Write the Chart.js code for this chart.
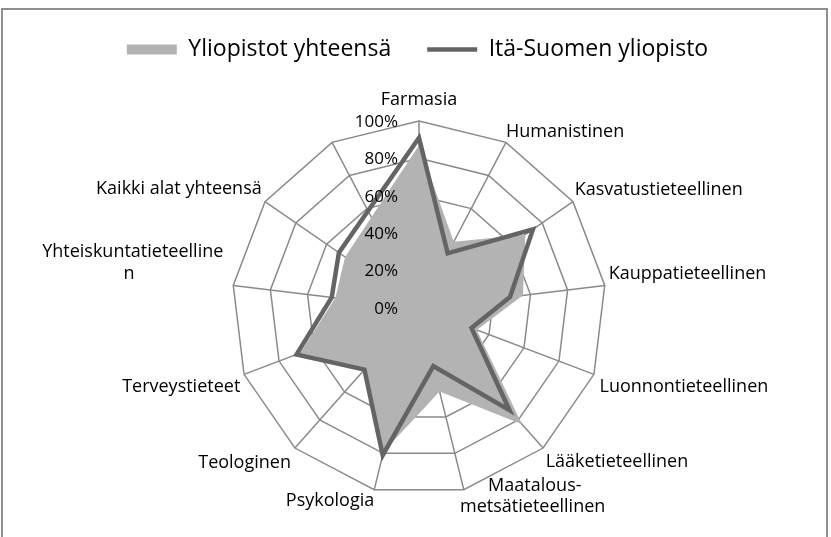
<!DOCTYPE html>
<html>
<head>
<meta charset="utf-8">
<script src="https://cdn.jsdelivr.net/npm/chart.js@4/dist/chart.umd.min.js"></script>
<style>
  html, body { margin: 0; padding: 0; background: #fff; overflow: hidden; }
  #wrap { position: relative; width: 831px; height: 537px; overflow: hidden; }
  #frame {
    position: absolute; left: 1px; top: 8px; width: 827px; height: 600px;
    border: 2px solid #8e8e8e; box-sizing: border-box; pointer-events: none;
  }
</style>
</head>
<body>
<div id="wrap">
  <canvas id="radarChart" width="831" height="527"></canvas>
  <div id="frame"></div>
</div>
<script>
  // categories (the last one is an empty column in the source sheet)
  const nb = (n) => "\u00a0".repeat(n);
  const categories = [
    "Farmasia",
    "Humanistinen",
    "Kasvatustieteellinen",
    "Kauppatieteellinen",
    "Luonnontieteellinen",
    "Lääketieteellinen",
    [nb(6) + "Maatalous-", "metsätieteellinen"],
    "Psykologia",
    "Teologinen",
    "Terveystieteet",
    ["Yhteiskuntatieteelline", "n" + nb(19)],
    "Kaikki alat yhteensä",
    "",
  ];

  // percentages
  const yliopistotYhteensa = [87, 40, 69, 56, 33, 83, 46, 79, 43, 68, 45, 48, null];
  const itaSuomenYliopisto = [91, 33, 74, 49, 30, 73, 32, 81, 44, 70, 47, 52, null];

  const tickValues = [0, 20, 40, 60, 80, 100];

  // distance of each category label from the outer ring
  // (the empty category gets extra room so the plot sits lower, as in the original)
  const labelPadding = [10, 0, 2, 4, 6, 4, -15.5, 0, 6, 4, 10, 4, 46];

  const fontFamily = "'Open Sans', sans-serif";

  // Excel-style value labels, right aligned left of the first axis
  const tickLabelPlugin = {
    id: "tickLabels",
    afterDatasetsDraw(chart) {
      const scale = chart.scales.r;
      const ctx = chart.ctx;
      ctx.save();
      ctx.font = "17px " + fontFamily;
      ctx.fillStyle = "#000";
      ctx.textAlign = "right";
      ctx.textBaseline = "middle";
      tickValues.forEach((v) => {
        const p = scale.getPointPositionForValue(0, v);
        ctx.fillText(v + "%", p.x - 21, p.y + 1);
      });
      ctx.restore();
    },
  };

  const ctx = document.getElementById("radarChart").getContext("2d");
  new Chart(ctx, {
    type: "radar",
    data: {
      labels: categories,
      datasets: [
        {
          label: "Yliopistot yhteensä",
          data: yliopistotYhteensa,
          backgroundColor: "#b3b3b3",
          borderColor: "#b3b3b3",
          borderWidth: 0,
          fill: true,
          pointRadius: 0,
          pointStyle: "rect",
          spanGaps: true,
          order: 2,
        },
        {
          label: "Itä-Suomen yliopisto",
          data: itaSuomenYliopisto,
          backgroundColor: "#646464",
          borderColor: "#646464",
          borderWidth: 4.5,
          fill: false,
          pointRadius: 0,
          pointStyle: "line",
          spanGaps: true,
          order: 1,
        },
      ],
    },
    options: {
      responsive: false,
      animation: false,
      elements: { line: { tension: 0, borderJoinStyle: "miter" } },
      layout: { padding: { top: 2, bottom: 0, left: 4, right: 0 } },
      plugins: {
        legend: {
          position: "top",
          labels: {
            usePointStyle: true,
            pointStyleWidth: 50,
            boxHeight: 10,
            padding: 36,
            color: "#000",
            font: { family: fontFamily, size: 23 },
            sort: (a, b) => a.datasetIndex - b.datasetIndex,
          },
        },
        tooltip: { enabled: false },
      },
      scales: {
        r: {
          min: 0,
          max: 100,
          ticks: { stepSize: 20, display: false },
          grid: { color: "#8a8a8a", lineWidth: 1.5 },
          angleLines: { color: "#8a8a8a", lineWidth: 1.5 },
          pointLabels: {
            color: "#000",
            padding: (c) => labelPadding[c.index],
            font: { family: fontFamily, size: 18 },
          },
        },
      },
    },
    plugins: [tickLabelPlugin],
  });
</script>
</body>
</html>
